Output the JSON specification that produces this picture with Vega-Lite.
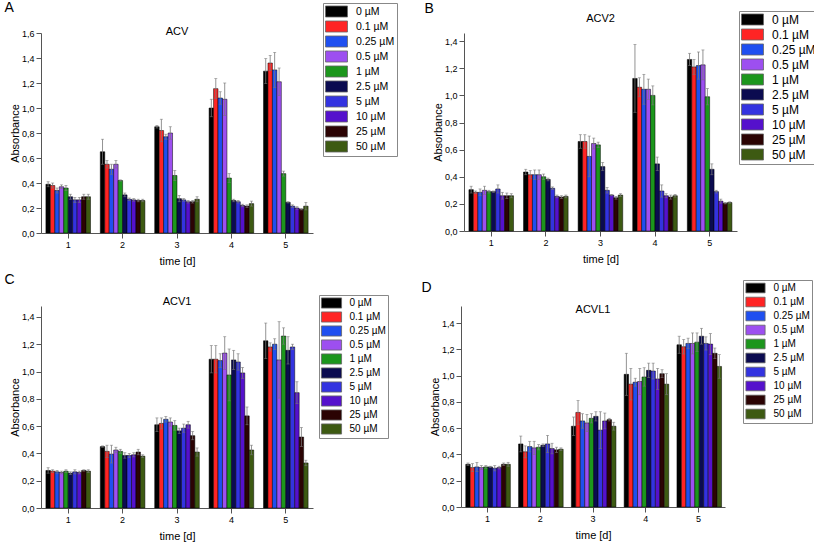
{
"$schema": "https://vega.github.io/schema/vega-lite/v6.json",
"padding": {"left": 4, "top": 0, "right": 2, "bottom": 2},
"background": "white",
"config": {
  "view": {"stroke": null},
  "font": "Liberation Sans",
  "title": {"font": "Liberation Sans", "fontWeight": "normal", "fontSize": 11, "color": "black"},
  "axis": {"grid": false, "domainColor": "#555", "tickColor": "#555", "labelColor": "black", "labelFont": "Liberation Sans", "labelFontSize": 9, "titleFont": "Liberation Sans", "titleFontSize": 11, "titleFontWeight": "normal", "titleColor": "black", "tickSize": 5, "labelPadding": 2, "labelOverlap": false},
  "axisY": {"labelExpr": "replace(format(datum.value, '.1f'), '.', ',')", "titlePadding": 1},
  "legend": {"labelFont": "Liberation Sans", "labelColor": "black", "symbolType": "M-1.83,-0.92H1.83V0.92H-1.83Z", "symbolStrokeColor": "#666", "symbolStrokeWidth": 0.8, "symbolOpacity": 1, "rowPadding": 0, "strokeColor": "#888", "fillColor": "white", "padding": 2, "title": null, "orient": "none"}
},
"datasets": {"d": [
{"p":"A","t":"1","c":"0 µM","v":0.39,"lo":0.37,"hi":0.41},
{"p":"A","t":"1","c":"0.1 µM","v":0.38,"lo":0.36,"hi":0.40},
{"p":"A","t":"1","c":"0.25 µM","v":0.34,"lo":0.32,"hi":0.36},
{"p":"A","t":"1","c":"0.5 µM","v":0.37,"lo":0.355,"hi":0.385},
{"p":"A","t":"1","c":"1 µM","v":0.36,"lo":0.34,"hi":0.38},
{"p":"A","t":"1","c":"2.5 µM","v":0.29,"lo":0.27,"hi":0.31},
{"p":"A","t":"1","c":"5 µM","v":0.265,"lo":0.245,"hi":0.285},
{"p":"A","t":"1","c":"10 µM","v":0.265,"lo":0.245,"hi":0.285},
{"p":"A","t":"1","c":"25 µM","v":0.29,"lo":0.27,"hi":0.31},
{"p":"A","t":"1","c":"50 µM","v":0.29,"lo":0.27,"hi":0.31},
{"p":"A","t":"2","c":"0 µM","v":0.65,"lo":0.55,"hi":0.75},
{"p":"A","t":"2","c":"0.1 µM","v":0.55,"lo":0.52,"hi":0.58},
{"p":"A","t":"2","c":"0.25 µM","v":0.51,"lo":0.47,"hi":0.55},
{"p":"A","t":"2","c":"0.5 µM","v":0.55,"lo":0.52,"hi":0.58},
{"p":"A","t":"2","c":"1 µM","v":0.42,"lo":0.415,"hi":0.425},
{"p":"A","t":"2","c":"2.5 µM","v":0.305,"lo":0.29,"hi":0.32},
{"p":"A","t":"2","c":"5 µM","v":0.27,"lo":0.26,"hi":0.28},
{"p":"A","t":"2","c":"10 µM","v":0.265,"lo":0.255,"hi":0.275},
{"p":"A","t":"2","c":"25 µM","v":0.26,"lo":0.25,"hi":0.27},
{"p":"A","t":"2","c":"50 µM","v":0.26,"lo":0.25,"hi":0.27},
{"p":"A","t":"3","c":"0 µM","v":0.85,"lo":0.84,"hi":0.86},
{"p":"A","t":"3","c":"0.1 µM","v":0.82,"lo":0.73,"hi":0.91},
{"p":"A","t":"3","c":"0.25 µM","v":0.77,"lo":0.75,"hi":0.79},
{"p":"A","t":"3","c":"0.5 µM","v":0.80,"lo":0.75,"hi":0.85},
{"p":"A","t":"3","c":"1 µM","v":0.46,"lo":0.42,"hi":0.50},
{"p":"A","t":"3","c":"2.5 µM","v":0.275,"lo":0.25,"hi":0.30},
{"p":"A","t":"3","c":"5 µM","v":0.265,"lo":0.255,"hi":0.275},
{"p":"A","t":"3","c":"10 µM","v":0.25,"lo":0.24,"hi":0.26},
{"p":"A","t":"3","c":"25 µM","v":0.25,"lo":0.24,"hi":0.26},
{"p":"A","t":"3","c":"50 µM","v":0.27,"lo":0.25,"hi":0.29},
{"p":"A","t":"4","c":"0 µM","v":1.0,"lo":0.93,"hi":1.07},
{"p":"A","t":"4","c":"0.1 µM","v":1.155,"lo":1.075,"hi":1.235},
{"p":"A","t":"4","c":"0.25 µM","v":1.08,"lo":1.03,"hi":1.13},
{"p":"A","t":"4","c":"0.5 µM","v":1.07,"lo":0.94,"hi":1.20},
{"p":"A","t":"4","c":"1 µM","v":0.44,"lo":0.405,"hi":0.475},
{"p":"A","t":"4","c":"2.5 µM","v":0.26,"lo":0.25,"hi":0.27},
{"p":"A","t":"4","c":"5 µM","v":0.25,"lo":0.24,"hi":0.26},
{"p":"A","t":"4","c":"10 µM","v":0.22,"lo":0.21,"hi":0.23},
{"p":"A","t":"4","c":"25 µM","v":0.215,"lo":0.205,"hi":0.225},
{"p":"A","t":"4","c":"50 µM","v":0.235,"lo":0.215,"hi":0.255},
{"p":"A","t":"5","c":"0 µM","v":1.295,"lo":1.195,"hi":1.395},
{"p":"A","t":"5","c":"0.1 µM","v":1.36,"lo":1.30,"hi":1.42},
{"p":"A","t":"5","c":"0.25 µM","v":1.305,"lo":1.165,"hi":1.445},
{"p":"A","t":"5","c":"0.5 µM","v":1.21,"lo":1.10,"hi":1.32},
{"p":"A","t":"5","c":"1 µM","v":0.475,"lo":0.455,"hi":0.495},
{"p":"A","t":"5","c":"2.5 µM","v":0.245,"lo":0.24,"hi":0.25},
{"p":"A","t":"5","c":"5 µM","v":0.215,"lo":0.205,"hi":0.225},
{"p":"A","t":"5","c":"10 µM","v":0.20,"lo":0.19,"hi":0.21},
{"p":"A","t":"5","c":"25 µM","v":0.19,"lo":0.185,"hi":0.195},
{"p":"A","t":"5","c":"50 µM","v":0.215,"lo":0.185,"hi":0.245},
{"p":"B","t":"1","c":"0 µM","v":0.305,"lo":0.28,"hi":0.33},
{"p":"B","t":"1","c":"0.1 µM","v":0.285,"lo":0.275,"hi":0.295},
{"p":"B","t":"1","c":"0.25 µM","v":0.285,"lo":0.26,"hi":0.31},
{"p":"B","t":"1","c":"0.5 µM","v":0.30,"lo":0.27,"hi":0.33},
{"p":"B","t":"1","c":"1 µM","v":0.29,"lo":0.28,"hi":0.30},
{"p":"B","t":"1","c":"2.5 µM","v":0.29,"lo":0.285,"hi":0.295},
{"p":"B","t":"1","c":"5 µM","v":0.31,"lo":0.28,"hi":0.34},
{"p":"B","t":"1","c":"10 µM","v":0.26,"lo":0.235,"hi":0.285},
{"p":"B","t":"1","c":"25 µM","v":0.26,"lo":0.24,"hi":0.28},
{"p":"B","t":"1","c":"50 µM","v":0.26,"lo":0.245,"hi":0.275},
{"p":"B","t":"2","c":"0 µM","v":0.435,"lo":0.415,"hi":0.455},
{"p":"B","t":"2","c":"0.1 µM","v":0.415,"lo":0.385,"hi":0.445},
{"p":"B","t":"2","c":"0.25 µM","v":0.415,"lo":0.38,"hi":0.45},
{"p":"B","t":"2","c":"0.5 µM","v":0.415,"lo":0.38,"hi":0.45},
{"p":"B","t":"2","c":"1 µM","v":0.40,"lo":0.38,"hi":0.42},
{"p":"B","t":"2","c":"2.5 µM","v":0.38,"lo":0.37,"hi":0.39},
{"p":"B","t":"2","c":"5 µM","v":0.315,"lo":0.305,"hi":0.325},
{"p":"B","t":"2","c":"10 µM","v":0.255,"lo":0.245,"hi":0.265},
{"p":"B","t":"2","c":"25 µM","v":0.25,"lo":0.24,"hi":0.26},
{"p":"B","t":"2","c":"50 µM","v":0.255,"lo":0.245,"hi":0.265},
{"p":"B","t":"3","c":"0 µM","v":0.66,"lo":0.61,"hi":0.71},
{"p":"B","t":"3","c":"0.1 µM","v":0.66,"lo":0.61,"hi":0.71},
{"p":"B","t":"3","c":"0.25 µM","v":0.55,"lo":0.40,"hi":0.70},
{"p":"B","t":"3","c":"0.5 µM","v":0.645,"lo":0.605,"hi":0.685},
{"p":"B","t":"3","c":"1 µM","v":0.635,"lo":0.615,"hi":0.655},
{"p":"B","t":"3","c":"2.5 µM","v":0.475,"lo":0.445,"hi":0.505},
{"p":"B","t":"3","c":"5 µM","v":0.30,"lo":0.28,"hi":0.32},
{"p":"B","t":"3","c":"10 µM","v":0.265,"lo":0.26,"hi":0.27},
{"p":"B","t":"3","c":"25 µM","v":0.245,"lo":0.235,"hi":0.255},
{"p":"B","t":"3","c":"50 µM","v":0.265,"lo":0.255,"hi":0.275},
{"p":"B","t":"4","c":"0 µM","v":1.125,"lo":0.875,"hi":1.375},
{"p":"B","t":"4","c":"0.1 µM","v":1.06,"lo":0.99,"hi":1.13},
{"p":"B","t":"4","c":"0.25 µM","v":1.045,"lo":0.935,"hi":1.155},
{"p":"B","t":"4","c":"0.5 µM","v":1.045,"lo":0.97,"hi":1.12},
{"p":"B","t":"4","c":"1 µM","v":1.0,"lo":0.93,"hi":1.07},
{"p":"B","t":"4","c":"2.5 µM","v":0.495,"lo":0.445,"hi":0.545},
{"p":"B","t":"4","c":"5 µM","v":0.295,"lo":0.25,"hi":0.34},
{"p":"B","t":"4","c":"10 µM","v":0.26,"lo":0.245,"hi":0.275},
{"p":"B","t":"4","c":"25 µM","v":0.25,"lo":0.235,"hi":0.265},
{"p":"B","t":"4","c":"50 µM","v":0.26,"lo":0.25,"hi":0.27},
{"p":"B","t":"5","c":"0 µM","v":1.265,"lo":1.22,"hi":1.31},
{"p":"B","t":"5","c":"0.1 µM","v":1.21,"lo":1.155,"hi":1.265},
{"p":"B","t":"5","c":"0.25 µM","v":1.22,"lo":1.12,"hi":1.32},
{"p":"B","t":"5","c":"0.5 µM","v":1.225,"lo":1.115,"hi":1.335},
{"p":"B","t":"5","c":"1 µM","v":0.99,"lo":0.93,"hi":1.05},
{"p":"B","t":"5","c":"2.5 µM","v":0.455,"lo":0.415,"hi":0.495},
{"p":"B","t":"5","c":"5 µM","v":0.29,"lo":0.28,"hi":0.30},
{"p":"B","t":"5","c":"10 µM","v":0.22,"lo":0.205,"hi":0.235},
{"p":"B","t":"5","c":"25 µM","v":0.205,"lo":0.20,"hi":0.21},
{"p":"B","t":"5","c":"50 µM","v":0.21,"lo":0.205,"hi":0.215},
{"p":"C","t":"1","c":"0 µM","v":0.275,"lo":0.255,"hi":0.295},
{"p":"C","t":"1","c":"0.1 µM","v":0.27,"lo":0.26,"hi":0.28},
{"p":"C","t":"1","c":"0.25 µM","v":0.265,"lo":0.255,"hi":0.275},
{"p":"C","t":"1","c":"0.5 µM","v":0.26,"lo":0.25,"hi":0.27},
{"p":"C","t":"1","c":"1 µM","v":0.27,"lo":0.26,"hi":0.28},
{"p":"C","t":"1","c":"2.5 µM","v":0.255,"lo":0.245,"hi":0.265},
{"p":"C","t":"1","c":"5 µM","v":0.265,"lo":0.25,"hi":0.28},
{"p":"C","t":"1","c":"10 µM","v":0.26,"lo":0.25,"hi":0.27},
{"p":"C","t":"1","c":"25 µM","v":0.275,"lo":0.27,"hi":0.28},
{"p":"C","t":"1","c":"50 µM","v":0.27,"lo":0.26,"hi":0.28},
{"p":"C","t":"2","c":"0 µM","v":0.45,"lo":0.445,"hi":0.455},
{"p":"C","t":"2","c":"0.1 µM","v":0.415,"lo":0.37,"hi":0.46},
{"p":"C","t":"2","c":"0.25 µM","v":0.395,"lo":0.33,"hi":0.46},
{"p":"C","t":"2","c":"0.5 µM","v":0.425,"lo":0.405,"hi":0.445},
{"p":"C","t":"2","c":"1 µM","v":0.415,"lo":0.40,"hi":0.43},
{"p":"C","t":"2","c":"2.5 µM","v":0.385,"lo":0.365,"hi":0.405},
{"p":"C","t":"2","c":"5 µM","v":0.385,"lo":0.37,"hi":0.40},
{"p":"C","t":"2","c":"10 µM","v":0.39,"lo":0.375,"hi":0.405},
{"p":"C","t":"2","c":"25 µM","v":0.41,"lo":0.39,"hi":0.43},
{"p":"C","t":"2","c":"50 µM","v":0.38,"lo":0.37,"hi":0.39},
{"p":"C","t":"3","c":"0 µM","v":0.61,"lo":0.56,"hi":0.66},
{"p":"C","t":"3","c":"0.1 µM","v":0.62,"lo":0.58,"hi":0.66},
{"p":"C","t":"3","c":"0.25 µM","v":0.65,"lo":0.63,"hi":0.67},
{"p":"C","t":"3","c":"0.5 µM","v":0.63,"lo":0.60,"hi":0.66},
{"p":"C","t":"3","c":"1 µM","v":0.605,"lo":0.57,"hi":0.64},
{"p":"C","t":"3","c":"2.5 µM","v":0.565,"lo":0.545,"hi":0.585},
{"p":"C","t":"3","c":"5 µM","v":0.585,"lo":0.555,"hi":0.615},
{"p":"C","t":"3","c":"10 µM","v":0.61,"lo":0.585,"hi":0.635},
{"p":"C","t":"3","c":"25 µM","v":0.53,"lo":0.50,"hi":0.56},
{"p":"C","t":"3","c":"50 µM","v":0.41,"lo":0.38,"hi":0.44},
{"p":"C","t":"4","c":"0 µM","v":1.09,"lo":0.99,"hi":1.19},
{"p":"C","t":"4","c":"0.1 µM","v":1.09,"lo":0.99,"hi":1.19},
{"p":"C","t":"4","c":"0.25 µM","v":1.08,"lo":1.03,"hi":1.13},
{"p":"C","t":"4","c":"0.5 µM","v":1.135,"lo":1.015,"hi":1.255},
{"p":"C","t":"4","c":"1 µM","v":0.975,"lo":0.785,"hi":1.165},
{"p":"C","t":"4","c":"2.5 µM","v":1.085,"lo":1.015,"hi":1.155},
{"p":"C","t":"4","c":"5 µM","v":1.07,"lo":1.01,"hi":1.13},
{"p":"C","t":"4","c":"10 µM","v":0.99,"lo":0.95,"hi":1.03},
{"p":"C","t":"4","c":"25 µM","v":0.675,"lo":0.61,"hi":0.74},
{"p":"C","t":"4","c":"50 µM","v":0.425,"lo":0.39,"hi":0.46},
{"p":"C","t":"5","c":"0 µM","v":1.225,"lo":1.095,"hi":1.355},
{"p":"C","t":"5","c":"0.1 µM","v":1.18,"lo":1.15,"hi":1.21},
{"p":"C","t":"5","c":"0.25 µM","v":1.20,"lo":1.16,"hi":1.24},
{"p":"C","t":"5","c":"0.5 µM","v":1.085,"lo":0.805,"hi":1.365},
{"p":"C","t":"5","c":"1 µM","v":1.26,"lo":1.20,"hi":1.32},
{"p":"C","t":"5","c":"2.5 µM","v":1.155,"lo":1.055,"hi":1.255},
{"p":"C","t":"5","c":"5 µM","v":1.18,"lo":1.16,"hi":1.20},
{"p":"C","t":"5","c":"10 µM","v":0.845,"lo":0.765,"hi":0.925},
{"p":"C","t":"5","c":"25 µM","v":0.52,"lo":0.45,"hi":0.59},
{"p":"C","t":"5","c":"50 µM","v":0.33,"lo":0.31,"hi":0.35},
{"p":"D","t":"1","c":"0 µM","v":0.325,"lo":0.315,"hi":0.335},
{"p":"D","t":"1","c":"0.1 µM","v":0.30,"lo":0.27,"hi":0.33},
{"p":"D","t":"1","c":"0.25 µM","v":0.305,"lo":0.27,"hi":0.34},
{"p":"D","t":"1","c":"0.5 µM","v":0.30,"lo":0.285,"hi":0.315},
{"p":"D","t":"1","c":"1 µM","v":0.305,"lo":0.295,"hi":0.315},
{"p":"D","t":"1","c":"2.5 µM","v":0.305,"lo":0.30,"hi":0.31},
{"p":"D","t":"1","c":"5 µM","v":0.295,"lo":0.275,"hi":0.315},
{"p":"D","t":"1","c":"10 µM","v":0.30,"lo":0.29,"hi":0.31},
{"p":"D","t":"1","c":"25 µM","v":0.325,"lo":0.315,"hi":0.335},
{"p":"D","t":"1","c":"50 µM","v":0.325,"lo":0.31,"hi":0.34},
{"p":"D","t":"2","c":"0 µM","v":0.48,"lo":0.42,"hi":0.54},
{"p":"D","t":"2","c":"0.1 µM","v":0.42,"lo":0.375,"hi":0.465},
{"p":"D","t":"2","c":"0.25 µM","v":0.46,"lo":0.42,"hi":0.50},
{"p":"D","t":"2","c":"0.5 µM","v":0.45,"lo":0.40,"hi":0.50},
{"p":"D","t":"2","c":"1 µM","v":0.455,"lo":0.435,"hi":0.475},
{"p":"D","t":"2","c":"2.5 µM","v":0.47,"lo":0.46,"hi":0.48},
{"p":"D","t":"2","c":"5 µM","v":0.48,"lo":0.415,"hi":0.545},
{"p":"D","t":"2","c":"10 µM","v":0.445,"lo":0.405,"hi":0.485},
{"p":"D","t":"2","c":"25 µM","v":0.435,"lo":0.415,"hi":0.455},
{"p":"D","t":"2","c":"50 µM","v":0.44,"lo":0.43,"hi":0.45},
{"p":"D","t":"3","c":"0 µM","v":0.615,"lo":0.545,"hi":0.685},
{"p":"D","t":"3","c":"0.1 µM","v":0.72,"lo":0.63,"hi":0.81},
{"p":"D","t":"3","c":"0.25 µM","v":0.655,"lo":0.60,"hi":0.71},
{"p":"D","t":"3","c":"0.5 µM","v":0.64,"lo":0.575,"hi":0.705},
{"p":"D","t":"3","c":"1 µM","v":0.675,"lo":0.64,"hi":0.71},
{"p":"D","t":"3","c":"2.5 µM","v":0.69,"lo":0.655,"hi":0.725},
{"p":"D","t":"3","c":"5 µM","v":0.585,"lo":0.445,"hi":0.725},
{"p":"D","t":"3","c":"10 µM","v":0.655,"lo":0.595,"hi":0.715},
{"p":"D","t":"3","c":"25 µM","v":0.665,"lo":0.655,"hi":0.675},
{"p":"D","t":"3","c":"50 µM","v":0.615,"lo":0.585,"hi":0.645},
{"p":"D","t":"4","c":"0 µM","v":1.01,"lo":0.85,"hi":1.17},
{"p":"D","t":"4","c":"0.1 µM","v":0.935,"lo":0.815,"hi":1.055},
{"p":"D","t":"4","c":"0.25 µM","v":0.95,"lo":0.92,"hi":0.98},
{"p":"D","t":"4","c":"0.5 µM","v":0.955,"lo":0.855,"hi":1.055},
{"p":"D","t":"4","c":"1 µM","v":0.99,"lo":0.92,"hi":1.06},
{"p":"D","t":"4","c":"2.5 µM","v":1.04,"lo":0.985,"hi":1.095},
{"p":"D","t":"4","c":"5 µM","v":1.035,"lo":0.975,"hi":1.095},
{"p":"D","t":"4","c":"10 µM","v":0.975,"lo":0.895,"hi":1.055},
{"p":"D","t":"4","c":"25 µM","v":1.015,"lo":0.985,"hi":1.045},
{"p":"D","t":"4","c":"50 µM","v":0.935,"lo":0.855,"hi":1.015},
{"p":"D","t":"5","c":"0 µM","v":1.235,"lo":1.17,"hi":1.30},
{"p":"D","t":"5","c":"0.1 µM","v":1.22,"lo":1.165,"hi":1.275},
{"p":"D","t":"5","c":"0.25 µM","v":1.245,"lo":1.205,"hi":1.285},
{"p":"D","t":"5","c":"0.5 µM","v":1.245,"lo":1.165,"hi":1.325},
{"p":"D","t":"5","c":"1 µM","v":1.255,"lo":1.185,"hi":1.325},
{"p":"D","t":"5","c":"2.5 µM","v":1.30,"lo":1.24,"hi":1.36},
{"p":"D","t":"5","c":"5 µM","v":1.245,"lo":1.195,"hi":1.295},
{"p":"D","t":"5","c":"10 µM","v":1.24,"lo":1.16,"hi":1.32},
{"p":"D","t":"5","c":"25 µM","v":1.17,"lo":1.13,"hi":1.21},
{"p":"D","t":"5","c":"50 µM","v":1.07,"lo":0.98,"hi":1.16}
]},
"data": {"name": "d"},
"spacing": 6,
"resolve": {"scale": {"color": "independent"}, "legend": {"color": "independent"}},
"vconcat": [
 {"hconcat": [
  {"title": {"text": "A", "anchor": "start", "frame": "bounds", "fontSize": 14, "dx": -5, "offset": -12},
   "resolve": {"scale": {"color": "independent"}, "legend": {"color": "independent"}},
   "vconcat": [
    {"title": {"text": "ACV", "offset": -34},
     "width": 272, "height": 200,
     "transform": [{"filter": "datum.p == 'A'"}],
     "encoding": {
       "x": {"field": "t", "type": "nominal", "title": "time [d]", "scale": {"paddingInner": 0.18, "paddingOuter": 0.09}, "axis": {"labelAngle": 0, "titlePadding": 6}},
       "xOffset": {"field": "c", "type": "nominal", "sort": ["0 µM","0.1 µM","0.25 µM","0.5 µM","1 µM","2.5 µM","5 µM","10 µM","25 µM","50 µM"]}
     },
     "layer": [
      {"mark": {"type": "bar", "stroke": "black", "strokeWidth": 0.5},
       "encoding": {
        "y": {"field": "v", "type": "quantitative", "title": "Absorbance", "scale": {"domain": [0, 1.6], "nice": false}, "axis": {"values": [0,0.2,0.4,0.6,0.8,1.0,1.2,1.4,1.6]}},
        "color": {"field": "c", "type": "nominal", "sort": ["0 µM","0.1 µM","0.25 µM","0.5 µM","1 µM","2.5 µM","5 µM","10 µM","25 µM","50 µM"], "scale": {"domain": ["0 µM","0.1 µM","0.25 µM","0.5 µM","1 µM","2.5 µM","5 µM","10 µM","25 µM","50 µM"], "range": ["#000000","#ff2424","#1f4ff0","#9d4ff0","#1c961c","#0b0b50","#3333e0","#5511cc","#2b0303","#3d5a12"]},
         "legend": {"legendX": 282, "legendY": -30, "symbolSize": 144, "symbolOffset": 5, "labelFontSize": 10.5, "labelOffset": 13}}
       }},
      {"mark": {"type": "rule", "color": "#777", "strokeWidth": 0.8},
       "encoding": {"y": {"field": "lo", "type": "quantitative", "title": "Absorbance", "axis": {"values": [0,0.2,0.4,0.6,0.8,1.0,1.2,1.4,1.6]}}, "y2": {"field": "hi"}}},
      {"mark": {"type": "tick", "color": "#777", "thickness": 0.8, "size": 3},
       "encoding": {"y": {"field": "hi", "type": "quantitative", "title": "Absorbance", "axis": {"values": [0,0.2,0.4,0.6,0.8,1.0,1.2,1.4,1.6]}}}},
      {"mark": {"type": "tick", "color": "#777", "thickness": 0.8, "size": 3},
       "encoding": {"y": {"field": "lo", "type": "quantitative", "title": "Absorbance", "axis": {"values": [0,0.2,0.4,0.6,0.8,1.0,1.2,1.4,1.6]}}}}
     ]}
   ]},
  {"title": {"text": "B", "anchor": "start", "frame": "bounds", "fontSize": 14, "dx": -8, "offset": -5},
   "resolve": {"scale": {"color": "independent"}, "legend": {"color": "independent"}},
   "vconcat": [
    {"title": {"text": "ACV2", "offset": -13},
     "width": 273, "height": 198,
     "transform": [{"filter": "datum.p == 'B'"}],
     "encoding": {
       "x": {"field": "t", "type": "nominal", "title": "time [d]", "scale": {"paddingInner": 0.18, "paddingOuter": 0.09}, "axis": {"labelAngle": 0, "titlePadding": 6}},
       "xOffset": {"field": "c", "type": "nominal", "sort": ["0 µM","0.1 µM","0.25 µM","0.5 µM","1 µM","2.5 µM","5 µM","10 µM","25 µM","50 µM"]}
     },
     "layer": [
      {"mark": {"type": "bar", "stroke": "black", "strokeWidth": 0.5},
       "encoding": {
        "y": {"field": "v", "type": "quantitative", "title": "Absorbance", "scale": {"domain": [0, 1.46], "nice": false}, "axis": {"values": [0,0.2,0.4,0.6,0.8,1.0,1.2,1.4]}},
        "color": {"field": "c", "type": "nominal", "sort": ["0 µM","0.1 µM","0.25 µM","0.5 µM","1 µM","2.5 µM","5 µM","10 µM","25 µM","50 µM"], "scale": {"domain": ["0 µM","0.1 µM","0.25 µM","0.5 µM","1 µM","2.5 µM","5 µM","10 µM","25 µM","50 µM"], "range": ["#000000","#ff2424","#1f4ff0","#9d4ff0","#1c961c","#0b0b50","#3333e0","#5511cc","#2b0303","#3d5a12"]},
         "legend": {"legendX": 275, "legendY": -22, "symbolSize": 144, "symbolOffset": 5, "labelFontSize": 12, "labelOffset": 13}}
       }},
      {"mark": {"type": "rule", "color": "#777", "strokeWidth": 0.8},
       "encoding": {"y": {"field": "lo", "type": "quantitative", "title": "Absorbance", "axis": {"values": [0,0.2,0.4,0.6,0.8,1.0,1.2,1.4]}}, "y2": {"field": "hi"}}},
      {"mark": {"type": "tick", "color": "#777", "thickness": 0.8, "size": 3},
       "encoding": {"y": {"field": "hi", "type": "quantitative", "title": "Absorbance", "axis": {"values": [0,0.2,0.4,0.6,0.8,1.0,1.2,1.4]}}}},
      {"mark": {"type": "tick", "color": "#777", "thickness": 0.8, "size": 3},
       "encoding": {"y": {"field": "lo", "type": "quantitative", "title": "Absorbance", "axis": {"values": [0,0.2,0.4,0.6,0.8,1.0,1.2,1.4]}}}}
     ]}
   ]}
 ], "spacing": 26,
 "resolve": {"scale": {"color": "independent"}, "legend": {"color": "independent"}}},
 {"hconcat": [
  {"title": {"text": "C", "anchor": "start", "frame": "bounds", "fontSize": 14, "dx": -5, "offset": 8},
   "resolve": {"scale": {"color": "independent"}, "legend": {"color": "independent"}},
   "vconcat": [
    {"title": {"text": "ACV1", "offset": -12},
     "width": 272, "height": 202,
     "transform": [{"filter": "datum.p == 'C'"}],
     "encoding": {
       "x": {"field": "t", "type": "nominal", "title": "time [d]", "scale": {"paddingInner": 0.18, "paddingOuter": 0.09}, "axis": {"labelAngle": 0, "titlePadding": 6}},
       "xOffset": {"field": "c", "type": "nominal", "sort": ["0 µM","0.1 µM","0.25 µM","0.5 µM","1 µM","2.5 µM","5 µM","10 µM","25 µM","50 µM"]}
     },
     "layer": [
      {"mark": {"type": "bar", "stroke": "black", "strokeWidth": 0.5},
       "encoding": {
        "y": {"field": "v", "type": "quantitative", "title": "Absorbance", "scale": {"domain": [0, 1.48], "nice": false}, "axis": {"values": [0,0.2,0.4,0.6,0.8,1.0,1.2,1.4]}},
        "color": {"field": "c", "type": "nominal", "sort": ["0 µM","0.1 µM","0.25 µM","0.5 µM","1 µM","2.5 µM","5 µM","10 µM","25 µM","50 µM"], "scale": {"domain": ["0 µM","0.1 µM","0.25 µM","0.5 µM","1 µM","2.5 µM","5 µM","10 µM","25 µM","50 µM"], "range": ["#000000","#ff2424","#1f4ff0","#9d4ff0","#1c961c","#0b0b50","#3333e0","#5511cc","#2b0303","#3d5a12"]},
         "legend": {"legendX": 278, "legendY": -11, "symbolSize": 121, "symbolOffset": 4.5, "labelFontSize": 10, "labelOffset": 12}}
       }},
      {"mark": {"type": "rule", "color": "#777", "strokeWidth": 0.8},
       "encoding": {"y": {"field": "lo", "type": "quantitative", "title": "Absorbance", "axis": {"values": [0,0.2,0.4,0.6,0.8,1.0,1.2,1.4]}}, "y2": {"field": "hi"}}},
      {"mark": {"type": "tick", "color": "#777", "thickness": 0.8, "size": 3},
       "encoding": {"y": {"field": "hi", "type": "quantitative", "title": "Absorbance", "axis": {"values": [0,0.2,0.4,0.6,0.8,1.0,1.2,1.4]}}}},
      {"mark": {"type": "tick", "color": "#777", "thickness": 0.8, "size": 3},
       "encoding": {"y": {"field": "lo", "type": "quantitative", "title": "Absorbance", "axis": {"values": [0,0.2,0.4,0.6,0.8,1.0,1.2,1.4]}}}}
     ]}
   ]},
  {"title": {"text": "D", "anchor": "start", "frame": "bounds", "fontSize": 14, "dx": -8, "offset": -15},
   "resolve": {"scale": {"color": "independent"}, "legend": {"color": "independent"}},
   "vconcat": [
    {"title": {"text": "ACVL1", "offset": -35},
     "width": 264, "height": 201,
     "transform": [{"filter": "datum.p == 'D'"}],
     "encoding": {
       "x": {"field": "t", "type": "nominal", "title": "time [d]", "scale": {"paddingInner": 0.18, "paddingOuter": 0.09}, "axis": {"labelAngle": 0, "titlePadding": 6}},
       "xOffset": {"field": "c", "type": "nominal", "sort": ["0 µM","0.1 µM","0.25 µM","0.5 µM","1 µM","2.5 µM","5 µM","10 µM","25 µM","50 µM"]}
     },
     "layer": [
      {"mark": {"type": "bar", "stroke": "black", "strokeWidth": 0.5},
       "encoding": {
        "y": {"field": "v", "type": "quantitative", "title": "Absorbance", "scale": {"domain": [0, 1.53], "nice": false}, "axis": {"values": [0,0.2,0.4,0.6,0.8,1.0,1.2,1.4]}},
        "color": {"field": "c", "type": "nominal", "sort": ["0 µM","0.1 µM","0.25 µM","0.5 µM","1 µM","2.5 µM","5 µM","10 µM","25 µM","50 µM"], "scale": {"domain": ["0 µM","0.1 µM","0.25 µM","0.5 µM","1 µM","2.5 µM","5 µM","10 µM","25 µM","50 µM"], "range": ["#000000","#ff2424","#1f4ff0","#9d4ff0","#1c961c","#0b0b50","#3333e0","#5511cc","#2b0303","#3d5a12"]},
         "legend": {"legendX": 282, "legendY": -26, "symbolSize": 110, "symbolOffset": 4.5, "labelFontSize": 10, "labelOffset": 12}}
       }},
      {"mark": {"type": "rule", "color": "#777", "strokeWidth": 0.8},
       "encoding": {"y": {"field": "lo", "type": "quantitative", "title": "Absorbance", "axis": {"values": [0,0.2,0.4,0.6,0.8,1.0,1.2,1.4]}}, "y2": {"field": "hi"}}},
      {"mark": {"type": "tick", "color": "#777", "thickness": 0.8, "size": 3},
       "encoding": {"y": {"field": "hi", "type": "quantitative", "title": "Absorbance", "axis": {"values": [0,0.2,0.4,0.6,0.8,1.0,1.2,1.4]}}}},
      {"mark": {"type": "tick", "color": "#777", "thickness": 0.8, "size": 3},
       "encoding": {"y": {"field": "lo", "type": "quantitative", "title": "Absorbance", "axis": {"values": [0,0.2,0.4,0.6,0.8,1.0,1.2,1.4]}}}}
     ]}
   ]}
 ], "spacing": 32,
 "resolve": {"scale": {"color": "independent"}, "legend": {"color": "independent"}}}
]
}
